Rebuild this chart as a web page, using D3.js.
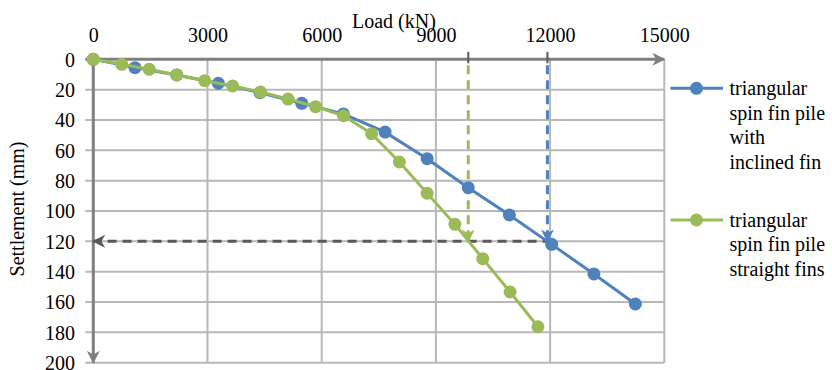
<!DOCTYPE html>
<html>
<head>
<meta charset="utf-8">
<script src="https://cdn.jsdelivr.net/npm/d3@7/dist/d3.min.js"></script>
<style>
  html, body { margin: 0; padding: 0; background: #fff; }
  svg { display: block; }
</style>
</head>
<body>
<svg id="chart" width="832" height="370"></svg>
<script>
// Load–settlement curves of the two triangular spin fin piles
const inclinedLoad = [0, 1095, 2190, 3285, 4380, 5475, 6570, 7665, 8770, 9850, 10930, 12040, 13150, 14240];
const inclinedSettle = [0, 5.5, 10.3, 15.8, 22, 29, 36, 48, 65.5, 84.6, 102.6, 122, 141.5, 161.3];

const straightLoad = [0, 745, 1470, 2195, 2925, 3660, 4395, 5115, 5840, 6575, 7310, 8040, 8770, 9500, 10230, 10950, 11680];
const straightSettle = [0, 3.3, 6.6, 10.3, 14.1, 17.6, 21.6, 26.2, 31.2, 37.2, 49, 67.7, 88.3, 108.8, 131.4, 153.4, 176.3];

const xTicks = [0, 3000, 6000, 9000, 12000, 15000];
const yTicks = [0, 20, 40, 60, 80, 100, 120, 140, 160, 180, 200];

// Ultimate capacity read at 120 mm settlement
const limitSettle = 120;
const inclinedCapacity = 11930;
const straightCapacity = 9850;

const seriesNames = [
  ["triangular", "spin fin pile", "with", "inclined fin"],
  ["triangular", "spin fin pile", "straight fins"]
];
const seriesColors = ["#4f81bd", "#9bbb59"];

const FONT = "'Liberation Serif', 'Times New Roman', serif";
const FS = 20;

const svg = d3.select("#chart");
const x = d3.scaleLinear().domain([0, 15000]).range([93.3, 664.3]);
const y = d3.scaleLinear().domain([0, 200]).range([59.3, 362.7]);

function styleText(sel) {
  return sel.style("font-family", FONT).style("font-size", FS + "px").style("fill", "#000");
}

// arrowheads (notched "stealth" style)
const defs = svg.append("defs");
function marker(id, color, size) {
  defs.append("marker")
    .attr("id", id)
    .attr("viewBox", "0 0 12 12")
    .attr("refX", 11).attr("refY", 6)
    .attr("markerWidth", size).attr("markerHeight", size)
    .attr("markerUnits", "userSpaceOnUse")
    .attr("orient", "auto")
    .append("path")
    .attr("d", "M0,0 L12,6 L0,12 L3.5,6 Z")
    .attr("fill", color);
}
marker("arrAxis", "#7f7f7f", 13);
marker("arrDark", "#595959", 13);
marker("arrBlue", "#4f81bd", 13);
marker("arrGreen", "#9bbb59", 13);

// gridlines
const grid = svg.append("g").attr("stroke", "#b7b7b7").attr("stroke-width", 2);
grid.selectAll("line.v").data(xTicks.slice(1)).join("line")
  .attr("x1", d => x(d)).attr("x2", d => x(d))
  .attr("y1", y(0)).attr("y2", y(200));
grid.selectAll("line.h").data(yTicks.slice(1)).join("line")
  .attr("x1", x(0) - 8).attr("x2", x(15000))
  .attr("y1", d => y(d)).attr("y2", d => y(d));

// axis lines with arrowheads
svg.append("line")
  .attr("x1", x(0) - 8).attr("x2", x(15000))
  .attr("y1", y(0)).attr("y2", y(0))
  .attr("stroke", "#7f7f7f").attr("stroke-width", 3)
  .attr("marker-end", "url(#arrAxis)");
svg.append("line")
  .attr("x1", x(0)).attr("x2", x(0))
  .attr("y1", y(0) - 4).attr("y2", y(200))
  .attr("stroke", "#7f7f7f").attr("stroke-width", 3)
  .attr("marker-end", "url(#arrAxis)");

// tick labels
const xAxis = d3.axisTop(x).tickValues(xTicks).tickSize(0).tickPadding(0).tickFormat(d3.format("d"));
const gx = svg.append("g").attr("transform", "translate(0,41.5)").call(xAxis);
gx.select(".domain").remove();
styleText(gx.selectAll("text")).attr("dy", 0);

const yAxis = d3.axisLeft(y).tickValues(yTicks).tickSize(0).tickPadding(0).tickFormat(d3.format("d"));
const gy = svg.append("g").attr("transform", "translate(75,0)").call(yAxis);
gy.select(".domain").remove();
styleText(gy.selectAll("text")).attr("dy", "0.34em");

// axis titles
styleText(svg.append("text").attr("x", 352).attr("y", 28).text("Load (kN)"));
styleText(svg.append("text")
  .attr("transform", "translate(24,209) rotate(-90)")
  .attr("text-anchor", "middle")
  .text("Settlement (mm)"));

// capacity guide lines
svg.append("line")
  .attr("x1", x(inclinedCapacity)).attr("x2", x(inclinedCapacity))
  .attr("y1", y(0) + 6).attr("y2", y(limitSettle))
  .attr("stroke", "#4f81bd").attr("stroke-width", 3).attr("stroke-dasharray", "9,6")
  .attr("marker-end", "url(#arrBlue)");
svg.append("line")
  .attr("x1", x(straightCapacity)).attr("x2", x(straightCapacity))
  .attr("y1", y(0) + 6).attr("y2", y(limitSettle))
  .attr("stroke", "#9bbb59").attr("stroke-width", 3).attr("stroke-dasharray", "9,6")
  .attr("marker-end", "url(#arrGreen)");
svg.append("line")
  .attr("x1", x(12040)).attr("x2", x(0))
  .attr("y1", y(limitSettle)).attr("y2", y(limitSettle))
  .attr("stroke", "#595959").attr("stroke-width", 3).attr("stroke-dasharray", "9,6")
  .attr("marker-end", "url(#arrDark)");

// small ticks on the load axis at the capacity values
svg.selectAll("line.cap").data([straightCapacity, inclinedCapacity]).join("line")
  .attr("class", "cap")
  .attr("x1", d => x(d)).attr("x2", d => x(d))
  .attr("y1", y(0) - 7.5).attr("y2", y(0) + 4)
  .attr("stroke", "#595959").attr("stroke-width", 2);

// series
const series = [
  { load: inclinedLoad, settle: inclinedSettle, color: seriesColors[0] },
  { load: straightLoad, settle: straightSettle, color: seriesColors[1] }
];
const line = d3.line().x(d => x(d[0])).y(d => y(d[1]));
series.forEach(s => {
  const pts = s.load.map((l, i) => [l, s.settle[i]]);
  const g = svg.append("g");
  g.append("path").attr("d", line(pts)).attr("fill", "none")
    .attr("stroke", s.color).attr("stroke-width", 3);
  g.selectAll("circle").data(pts).join("circle")
    .attr("cx", d => x(d[0])).attr("cy", d => y(d[1])).attr("r", 6.5)
    .attr("fill", s.color);
});

// legend
const legendTop = [88.3, 220];
seriesNames.forEach((lines, i) => {
  const g = svg.append("g").attr("transform", `translate(0,${legendTop[i]})`);
  g.append("line").attr("x1", 670.5).attr("x2", 723).attr("y1", 0).attr("y2", 0)
    .attr("stroke", seriesColors[i]).attr("stroke-width", 3);
  g.append("circle").attr("cx", 696.5).attr("cy", 0).attr("r", 6.5).attr("fill", seriesColors[i]);
  styleText(g.selectAll("text").data(lines).join("text")
    .attr("x", 729.5).attr("y", (d, j) => 6.7 + j * 24.7)
    .text(d => d));
});
</script>
</body>
</html>
